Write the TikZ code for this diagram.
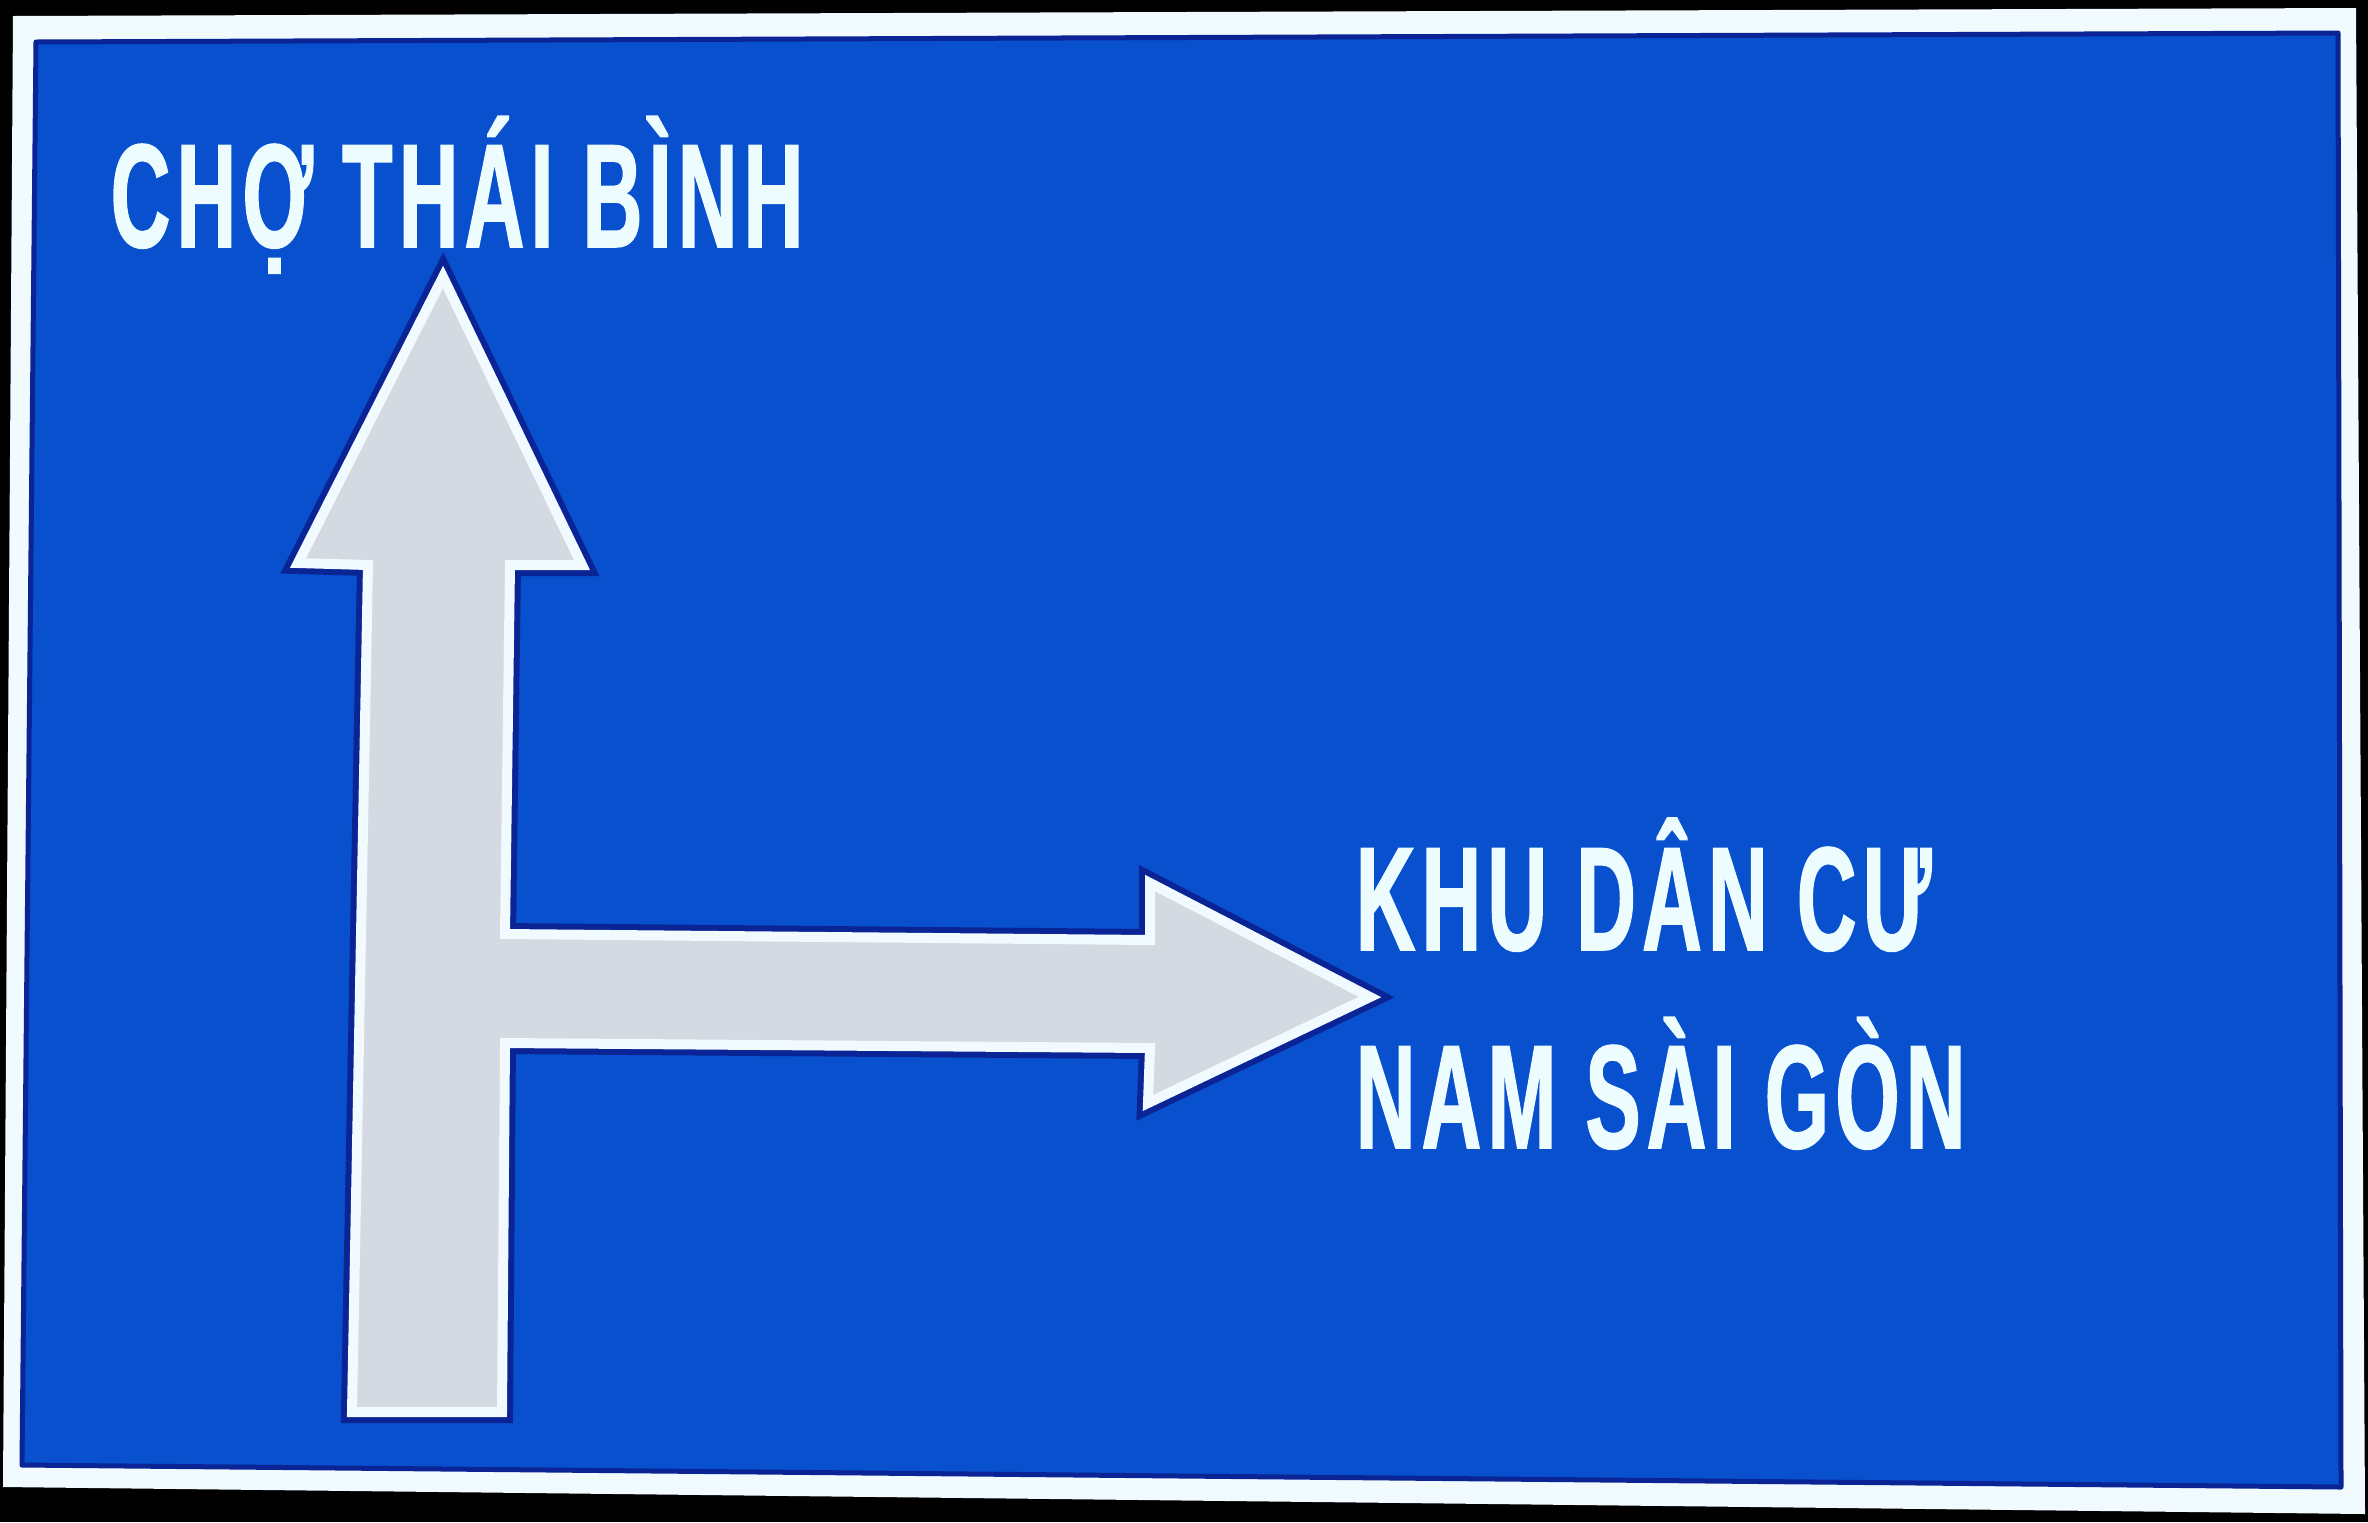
\documentclass[tikz,border=0pt]{standalone}
\usepackage{fontspec}
\newfontfamily\signfont[FakeStretch=0.56,FakeBold=1,LetterSpace=4.2]{Liberation Sans Bold}
\definecolor{signblue}{RGB}{8,80,205}
\definecolor{deepblue}{RGB}{10,36,150}
\definecolor{arrowgray}{RGB}{213,218,226}
\definecolor{edgewhite}{RGB}{240,250,255}
\definecolor{txtwhite}{RGB}{236,252,255}
\tikzset{
  frm/.style={fill=edgewhite},
  sgn/.style={fill=signblue, draw=deepblue, line width=0.5mm, line join=round},
  halo/.style={draw=deepblue, line width=2.2mm, line join=miter},
  arw/.style={fill=arrowgray, draw=edgewhite, line width=1mm, line join=miter},
  lbl/.style={text=txtwhite, inner sep=0pt, anchor=base west, font=\signfont\fontsize{42}{50}\selectfont}
}
\begin{document}
\begin{tikzpicture}[x=0.1mm, y=-0.1mm]
	\fill[black] (0,0) rectangle (2368,1522);
	\fill[frm] (13,16) -- (2356,8) -- (2365,1514) -- (3,1487) -- cycle;
	\filldraw[sgn] (36,42) -- (2338,33) -- (2341,1487) -- (22,1465) -- cycle;
	
	\draw[halo] (443,277) -- (582,565) -- (510,565) -- (505,934) -- (1150,940) -- (1150,883) -- (1370,997) -- (1148,1103) -- (1150,1048) -- (505,1043) -- (502,1412) -- (352,1412) -- (368,565) -- (298,563) -- cycle;
	\filldraw[arw] (443,277) -- (582,565) -- (510,565) -- (505,934) -- (1150,940) -- (1150,883) -- (1370,997) -- (1148,1103) -- (1150,1048) -- (505,1043) -- (502,1412) -- (352,1412) -- (368,565) -- (298,563) -- cycle;
	
	\node[lbl] (cho) at (110,247) {CHỢ THÁI BÌNH};
	\node[lbl] (khu) at (1355,950) {KHU DÂN CƯ};
	\node[lbl] (nam) at (1355,1148) {NAM SÀI GÒN};
\end{tikzpicture}
\end{document}
